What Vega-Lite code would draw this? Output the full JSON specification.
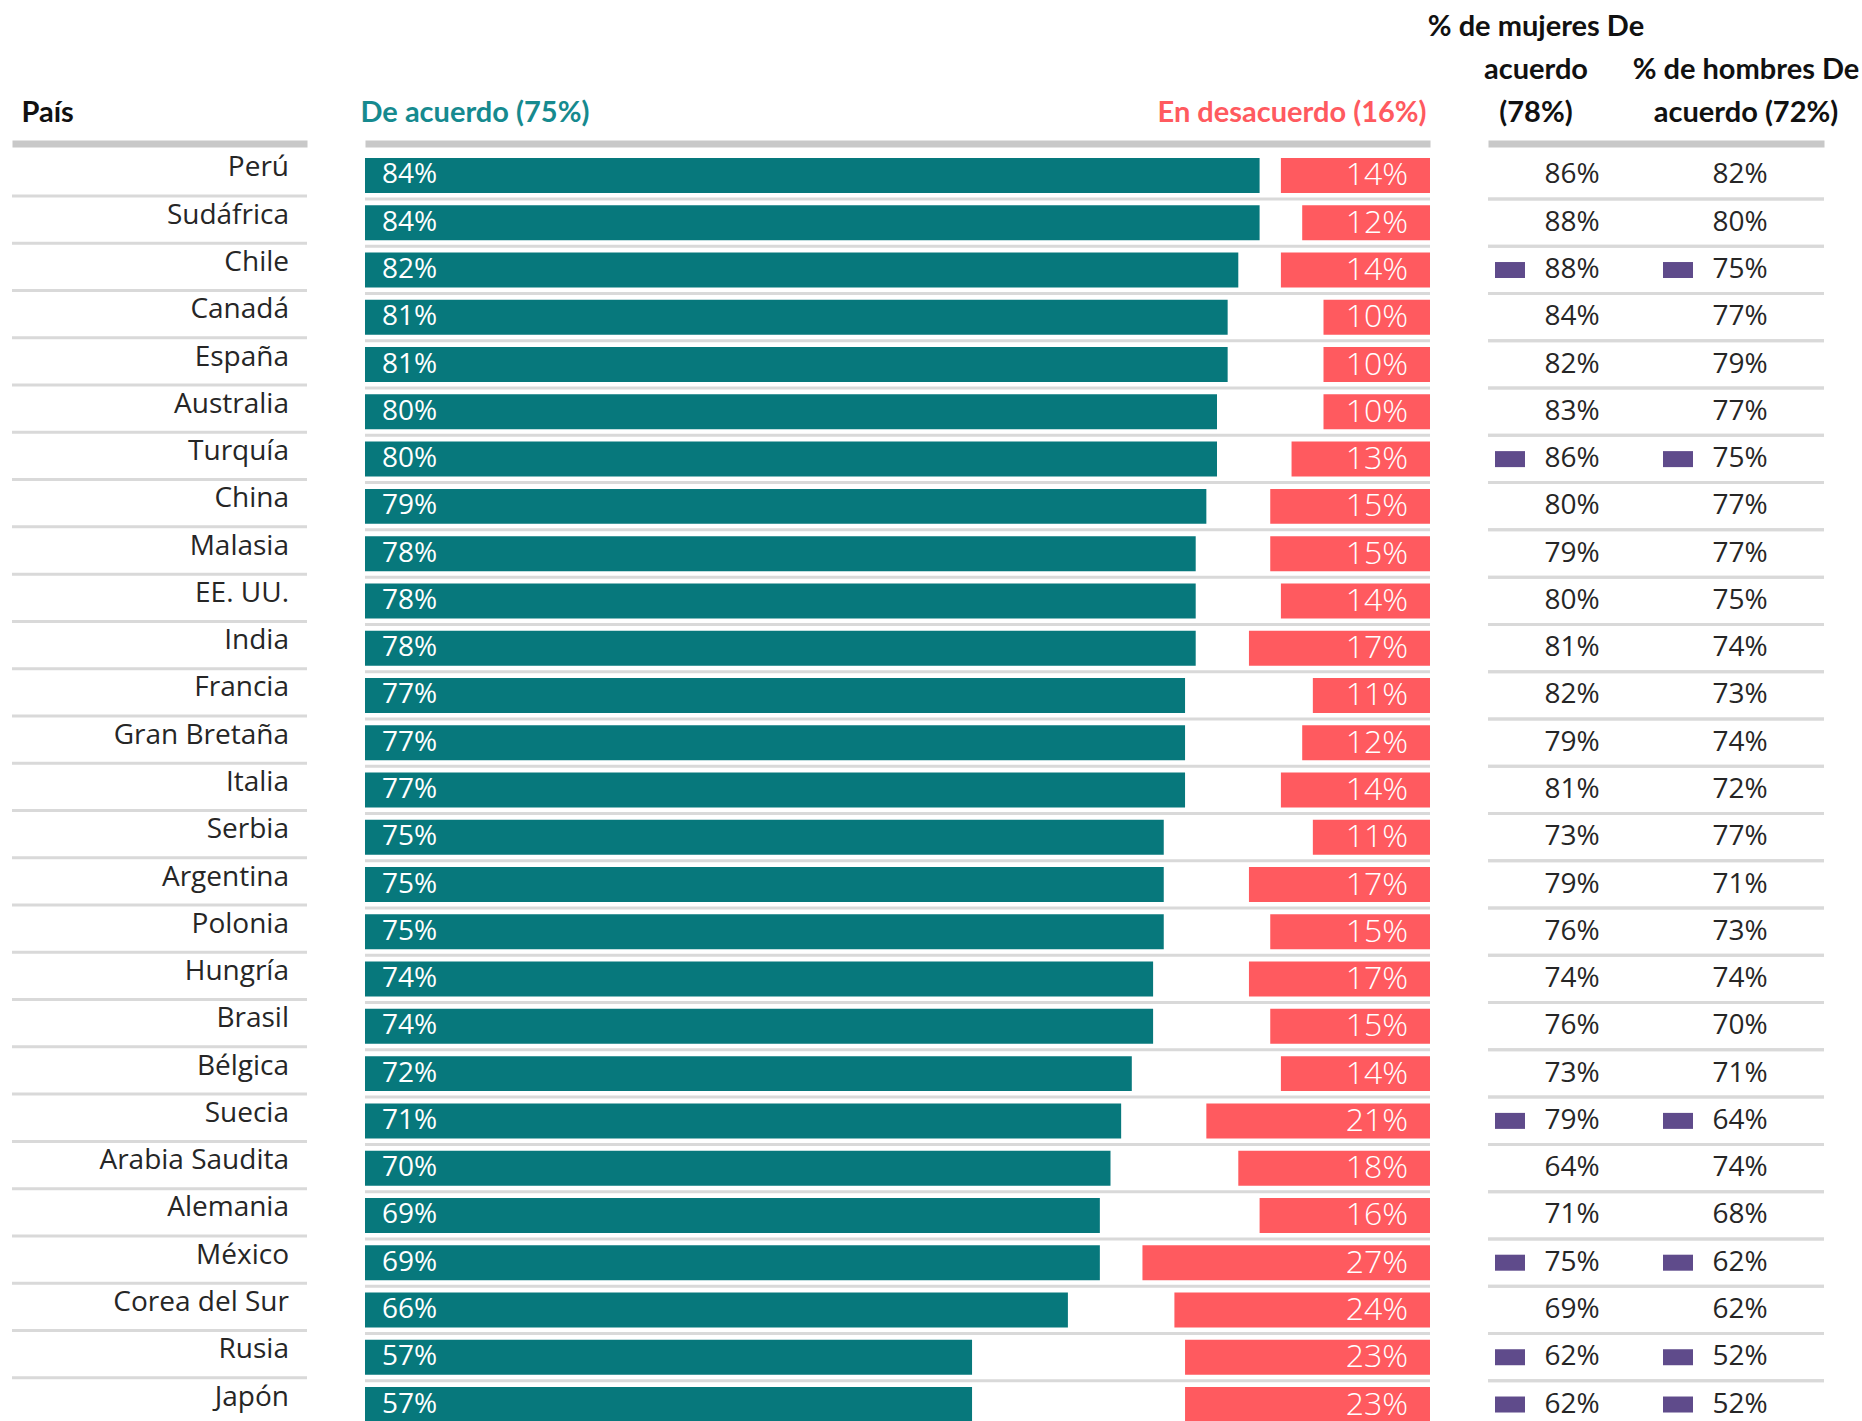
{
  "$schema": "https://vega.github.io/schema/vega-lite/v6.json",
  "background": "white",
  "padding": {"left": 12, "top": 12, "right": 0, "bottom": 0},
  "bounds": "flush",
  "spacing": 58,
  "config": {"view": {"stroke": null}, "font": "Open Sans"},
  "data": {
    "values": [
      {"pais": "Perú", "acuerdo": 0.84, "desacuerdo": 0.14, "mujeres": 0.86, "hombres": 0.82, "destacado": false},
      {"pais": "Sudáfrica", "acuerdo": 0.84, "desacuerdo": 0.12, "mujeres": 0.88, "hombres": 0.80, "destacado": false},
      {"pais": "Chile", "acuerdo": 0.82, "desacuerdo": 0.14, "mujeres": 0.88, "hombres": 0.75, "destacado": true},
      {"pais": "Canadá", "acuerdo": 0.81, "desacuerdo": 0.10, "mujeres": 0.84, "hombres": 0.77, "destacado": false},
      {"pais": "España", "acuerdo": 0.81, "desacuerdo": 0.10, "mujeres": 0.82, "hombres": 0.79, "destacado": false},
      {"pais": "Australia", "acuerdo": 0.80, "desacuerdo": 0.10, "mujeres": 0.83, "hombres": 0.77, "destacado": false},
      {"pais": "Turquía", "acuerdo": 0.80, "desacuerdo": 0.13, "mujeres": 0.86, "hombres": 0.75, "destacado": true},
      {"pais": "China", "acuerdo": 0.79, "desacuerdo": 0.15, "mujeres": 0.80, "hombres": 0.77, "destacado": false},
      {"pais": "Malasia", "acuerdo": 0.78, "desacuerdo": 0.15, "mujeres": 0.79, "hombres": 0.77, "destacado": false},
      {"pais": "EE. UU.", "acuerdo": 0.78, "desacuerdo": 0.14, "mujeres": 0.80, "hombres": 0.75, "destacado": false},
      {"pais": "India", "acuerdo": 0.78, "desacuerdo": 0.17, "mujeres": 0.81, "hombres": 0.74, "destacado": false},
      {"pais": "Francia", "acuerdo": 0.77, "desacuerdo": 0.11, "mujeres": 0.82, "hombres": 0.73, "destacado": false},
      {"pais": "Gran Bretaña", "acuerdo": 0.77, "desacuerdo": 0.12, "mujeres": 0.79, "hombres": 0.74, "destacado": false},
      {"pais": "Italia", "acuerdo": 0.77, "desacuerdo": 0.14, "mujeres": 0.81, "hombres": 0.72, "destacado": false},
      {"pais": "Serbia", "acuerdo": 0.75, "desacuerdo": 0.11, "mujeres": 0.73, "hombres": 0.77, "destacado": false},
      {"pais": "Argentina", "acuerdo": 0.75, "desacuerdo": 0.17, "mujeres": 0.79, "hombres": 0.71, "destacado": false},
      {"pais": "Polonia", "acuerdo": 0.75, "desacuerdo": 0.15, "mujeres": 0.76, "hombres": 0.73, "destacado": false},
      {"pais": "Hungría", "acuerdo": 0.74, "desacuerdo": 0.17, "mujeres": 0.74, "hombres": 0.74, "destacado": false},
      {"pais": "Brasil", "acuerdo": 0.74, "desacuerdo": 0.15, "mujeres": 0.76, "hombres": 0.70, "destacado": false},
      {"pais": "Bélgica", "acuerdo": 0.72, "desacuerdo": 0.14, "mujeres": 0.73, "hombres": 0.71, "destacado": false},
      {"pais": "Suecia", "acuerdo": 0.71, "desacuerdo": 0.21, "mujeres": 0.79, "hombres": 0.64, "destacado": true},
      {"pais": "Arabia Saudita", "acuerdo": 0.70, "desacuerdo": 0.18, "mujeres": 0.64, "hombres": 0.74, "destacado": false},
      {"pais": "Alemania", "acuerdo": 0.69, "desacuerdo": 0.16, "mujeres": 0.71, "hombres": 0.68, "destacado": false},
      {"pais": "México", "acuerdo": 0.69, "desacuerdo": 0.27, "mujeres": 0.75, "hombres": 0.62, "destacado": true},
      {"pais": "Corea del Sur", "acuerdo": 0.66, "desacuerdo": 0.24, "mujeres": 0.69, "hombres": 0.62, "destacado": false},
      {"pais": "Rusia", "acuerdo": 0.57, "desacuerdo": 0.23, "mujeres": 0.62, "hombres": 0.52, "destacado": true},
      {"pais": "Japón", "acuerdo": 0.57, "desacuerdo": 0.23, "mujeres": 0.62, "hombres": 0.52, "destacado": true}
    ]
  },
  "hconcat": [
    {
      "width": 295,
      "height": 1264,
      "layer": [
        {
          "mark": {"type": "rule", "color": "#d9d9d9", "strokeWidth": 3, "yOffset": 3, "clip": true},
          "encoding": {
            "y": {"field": "pais", "type": "nominal", "sort": null, "bandPosition": 1, "axis": null, "scale": {"paddingInner": 0.26, "paddingOuter": 0}},
            "x": {"datum": 0, "type": "quantitative", "scale": {"domain": [0, 1]},
              "axis": {"orient": "top", "domain": true, "domainColor": "#c8c8c8", "domainWidth": 7, "domainCap": "butt", "ticks": false, "tickSize": 0, "grid": false, "values": [0], "labelExpr": "'País'", "labelAlign": "left", "labelFont": "Lato", "labelFontWeight": "bold", "labelFontSize": 29, "labelColor": "#111111", "labelPadding": 16, "labelOffset": 9, "labelLimit": 500, "offset": 14.5, "title": null, "labelBound": false, "labelFlush": false, "labelOverlap": false}},
            "x2": {"datum": 1}
          }
        },
        {
          "mark": {"type": "text", "align": "right", "baseline": "middle", "fontSize": 28, "color": "#262626", "dx": -18, "dy": -7},
          "encoding": {
            "y": {"field": "pais", "type": "nominal", "sort": null, "axis": null},
            "x": {"datum": 1, "type": "quantitative"},
            "text": {"field": "pais", "type": "nominal"}
          }
        }
      ]
    },
    {
      "width": 1065,
      "height": 1264,
      "resolve": {"scale": {"x": "independent"}, "axis": {"x": "independent"}},
      "layer": [
        {
          "mark": {"type": "rule", "color": "#d9d9d9", "strokeWidth": 3, "yOffset": 6, "clip": true},
          "encoding": {
            "y": {"field": "pais", "type": "nominal", "sort": null, "bandPosition": 1, "axis": null, "scale": {"paddingInner": 0.26, "paddingOuter": 0}}
          }
        },
        {
          "layer": [
            {
              "mark": {"type": "bar", "color": "#07787c"},
              "encoding": {
                "y": {"field": "pais", "type": "nominal", "sort": null, "axis": null},
                "x": {"field": "acuerdo", "type": "quantitative", "scale": {"domain": [0, 1]},
                  "axis": {"orient": "top", "domain": true, "domainColor": "#c8c8c8", "domainWidth": 7, "domainCap": "butt", "ticks": false, "tickSize": 0, "grid": false, "values": [0], "labelExpr": "'De acuerdo (75%)'", "labelAlign": "left", "labelFont": "Lato", "labelFontWeight": "bold", "labelFontSize": 29, "labelColor": "#168a8f", "labelPadding": 16, "labelOffset": -5, "labelLimit": 500, "offset": 14.5, "title": null, "labelBound": false, "labelFlush": false, "labelOverlap": false}}
              }
            },
            {
              "mark": {"type": "text", "align": "left", "baseline": "middle", "dx": 17, "fontSize": 28, "color": "white"},
              "encoding": {
                "y": {"field": "pais", "type": "nominal", "sort": null, "axis": null},
                "x": {"datum": 0, "type": "quantitative"},
                "text": {"field": "acuerdo", "type": "quantitative", "format": ".0%"}
              }
            }
          ]
        },
        {
          "layer": [
            {
              "mark": {"type": "bar", "color": "#ff5a5f"},
              "encoding": {
                "y": {"field": "pais", "type": "nominal", "sort": null, "axis": null},
                "x": {"field": "desacuerdo", "type": "quantitative", "scale": {"domain": [0, 1], "reverse": true},
                  "axis": {"orient": "top", "domain": false, "ticks": false, "tickSize": 0, "grid": false, "values": [0], "labelExpr": "'En desacuerdo (16%)'", "labelAlign": "right", "labelFont": "Lato", "labelFontWeight": "bold", "labelFontSize": 29, "labelColor": "#ff5a5f", "labelPadding": 16, "labelOffset": -4, "labelLimit": 500, "offset": 14.5, "title": null, "labelBound": false, "labelFlush": false, "labelOverlap": false}}
              }
            },
            {
              "mark": {"type": "text", "align": "right", "baseline": "middle", "dx": -22, "fontSize": 32, "fontWeight": 300, "color": "white"},
              "encoding": {
                "y": {"field": "pais", "type": "nominal", "sort": null, "axis": null},
                "x": {"datum": 0, "type": "quantitative"},
                "text": {"field": "desacuerdo", "type": "quantitative", "format": ".0%"}
              }
            }
          ]
        }
      ]
    },
    {
      "width": 336,
      "height": 1264,
      "transform": [{"fold": ["mujeres", "hombres"], "as": ["grupo", "valor"]}],
      "layer": [
        {
          "mark": {"type": "rule", "color": "#d9d9d9", "strokeWidth": 3, "yOffset": 6, "clip": true},
          "encoding": {
            "y": {"field": "pais", "type": "nominal", "sort": null, "bandPosition": 1, "axis": null, "scale": {"paddingInner": 0.26, "paddingOuter": 0}}
          }
        },
        {
          "transform": [{"filter": "datum.destacado"}],
          "mark": {"type": "bar", "color": "#5f4b8b", "width": 30, "height": 16, "xOffset": -62},
          "encoding": {
            "y": {"field": "pais", "type": "nominal", "sort": null, "axis": null},
            "x": {"field": "grupo", "type": "nominal", "sort": ["mujeres", "hombres"]}
          }
        },
        {
          "mark": {"type": "text", "align": "center", "baseline": "middle", "fontSize": 28, "color": "#262626"},
          "encoding": {
            "y": {"field": "pais", "type": "nominal", "sort": null, "axis": null},
            "x": {"field": "grupo", "type": "nominal", "sort": ["mujeres", "hombres"], "scale": {"paddingInner": 0, "paddingOuter": 0},
              "axis": {"orient": "top", "domain": true, "domainColor": "#c8c8c8", "domainWidth": 7, "domainCap": "butt", "ticks": false, "tickSize": 0, "grid": false, "labelExpr": "datum.value == 'mujeres' ? ['% de mujeres De', 'acuerdo', '(78%)'] : ['', '% de hombres De', 'acuerdo (72%)']", "labelAlign": "center", "labelBaseline": "top", "labelAngle": 0, "labelFont": "Lato", "labelFontWeight": "bold", "labelFontSize": 29, "labelLineHeight": 43, "labelColor": "#111111", "labelPadding": 131, "labelOffset": {"condition": {"test": "datum.value == 'mujeres'", "value": -36}, "value": 6}, "labelLimit": 500, "offset": 14.5, "title": null, "labelBound": false, "labelFlush": false, "labelOverlap": false}},
            "text": {"field": "valor", "type": "quantitative", "format": ".0%"}
          }
        }
      ]
    }
  ]
}
